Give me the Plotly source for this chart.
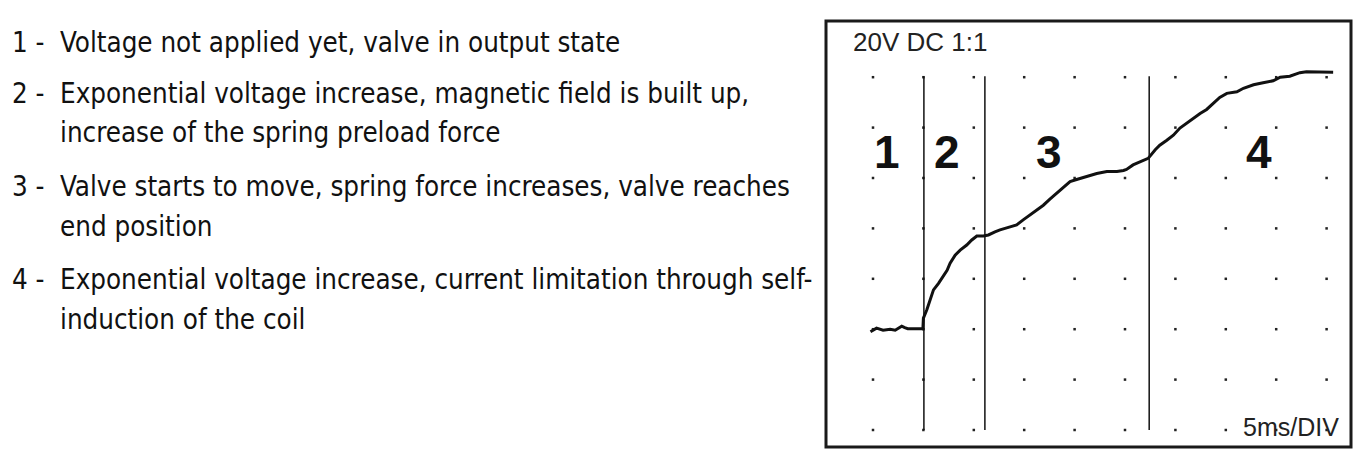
import plotly.graph_objects as go

W, H = 1366, 458

# Oscilloscope trace (time in divisions, level in divisions above bottom grid row)
trace_t = [-0.05, 0.07, 0.20, 0.34, 0.44, 0.57, 0.63, 0.69, 0.99, 1.00, 1.07, 1.13, 1.20, 1.30,
           1.39, 1.47, 1.53, 1.63, 1.73, 1.86, 1.96, 2.06, 2.19, 2.29, 2.42, 2.52, 2.72, 2.85,
           2.98, 3.12, 3.25, 3.38, 3.51, 3.64, 3.78, 3.91, 4.04, 4.24, 4.44, 4.64, 4.84, 4.97,
           5.03, 5.16, 5.29, 5.46, 5.60, 5.69, 5.83, 5.96, 6.09, 6.22, 6.36, 6.49, 6.62, 6.75,
           6.88, 7.02, 7.22, 7.35, 7.55, 7.74, 7.94, 8.08, 8.27, 8.47, 8.60, 9.13]
trace_v = [1.95, 2.02, 1.98, 2.00, 1.98, 2.06, 2.03, 2.01, 2.01, 2.22, 2.39, 2.58, 2.78, 2.91,
           3.04, 3.17, 3.31, 3.47, 3.57, 3.67, 3.77, 3.85, 3.85, 3.87, 3.93, 3.97, 4.03, 4.07,
           4.17, 4.27, 4.37, 4.46, 4.58, 4.70, 4.82, 4.93, 4.97, 5.03, 5.09, 5.13, 5.13, 5.15,
           5.17, 5.26, 5.32, 5.39, 5.56, 5.65, 5.75, 5.85, 5.99, 6.09, 6.18, 6.28, 6.36, 6.48,
           6.60, 6.68, 6.71, 6.78, 6.85, 6.89, 6.93, 7.00, 7.02, 7.09, 7.11, 7.10]

grid_cols = list(range(10))
grid_rows = list(range(8))

phase_bounds = [1.01, 2.22, 5.48]
phase_labels = ["1", "2", "3", "4"]
phase_label_x = [0.28, 1.47, 3.49, 7.65]
phase_label_y = 5.51

scope_header = "20V DC 1:1"
scope_timebase = "5ms/DIV"

legend_nums = ["1 -", "2 -", "3 -", "4 -"]
legend_lines = [
    ["Voltage not applied yet, valve in output state"],
    ["Exponential voltage increase, magnetic field is built up,",
     "increase of the spring preload force"],
    ["Valve starts to move, spring force increases, valve reaches",
     "end position"],
    ["Exponential voltage increase, current limitation through self-",
     "induction of the coil"],
]

# ---- layout geometry (pixels) ----
box_l, box_r, box_t, box_b = 826, 1351, 21, 447
col0_px, row_bottom_px, div_px = 873, 430, 50.4

def px_x(p):
    return p / W

def px_y(p):
    return 1 - p / H

fig = go.Figure()

gx = [c for r in grid_rows for c in grid_cols]
gy = [r for r in grid_rows for c in grid_cols]
fig.add_trace(go.Scatter(x=gx, y=gy, mode="markers",
                         marker=dict(size=2.5, color="#222222", symbol="square"),
                         hoverinfo="skip", showlegend=False))

fig.add_trace(go.Scatter(x=trace_t, y=trace_v, mode="lines",
                         line=dict(color="#111111", width=3),
                         showlegend=False))

for b in phase_bounds:
    fig.add_shape(type="line", xref="x", yref="y", x0=b, x1=b, y0=0, y1=7.02,
                  line=dict(color="#111111", width=1.5))

fig.add_shape(type="rect", xref="paper", yref="paper",
              x0=px_x(box_l), x1=px_x(box_r), y0=px_y(box_b), y1=px_y(box_t),
              line=dict(color="#1a1a1a", width=3))

ann = []
for lab, lx in zip(phase_labels, phase_label_x):
    ann.append(dict(x=lx, y=phase_label_y, xref="x", yref="y", text=lab, showarrow=False,
                    xanchor="center", yanchor="middle",
                    font=dict(family="Liberation Sans, Arial, sans-serif", size=46,
                              color="#111111", weight="bold")))

ann.append(dict(x=px_x(920), y=px_y(42), xref="paper", yref="paper", text=scope_header,
                showarrow=False, xanchor="center", yanchor="middle",
                font=dict(family="Liberation Sans, Arial, sans-serif", size=26, color="#222222")))
ann.append(dict(x=px_x(1291), y=px_y(427), xref="paper", yref="paper", text=scope_timebase,
                showarrow=False, xanchor="center", yanchor="middle",
                font=dict(family="Liberation Sans, Arial, sans-serif", size=25, color="#222222")))

text_font = dict(family="Liberation Sans Narrow, DejaVu Sans Condensed, Arial Narrow, sans-serif",
                 size=27.5, color="#111111")
line_centers = [[42], [92.5, 132], [186, 226], [279, 319]]
for num, lines, centers in zip(legend_nums, legend_lines, line_centers):
    ann.append(dict(x=px_x(10), y=px_y(centers[0]), xref="paper", yref="paper", text=num,
                    showarrow=False, xanchor="left", yanchor="middle", font=text_font))
    for t, c in zip(lines, centers):
        ann.append(dict(x=px_x(58), y=px_y(c), xref="paper", yref="paper", text=t,
                        showarrow=False, xanchor="left", yanchor="middle", font=text_font))

x_lo = (box_l - col0_px) / div_px
x_hi = (box_r - col0_px) / div_px
y_lo = (row_bottom_px - box_b) / div_px
y_hi = (row_bottom_px - box_t) / div_px

fig.update_layout(
    width=W, height=H, margin=dict(l=0, r=0, t=0, b=0),
    paper_bgcolor="white", plot_bgcolor="white",
    xaxis=dict(domain=[px_x(box_l), px_x(box_r)], range=[x_lo, x_hi], visible=False,
               fixedrange=True),
    yaxis=dict(domain=[px_y(box_b), px_y(box_t)], range=[y_lo, y_hi], visible=False,
               fixedrange=True),
    annotations=ann, showlegend=False,
)

fig.write_html("out.html", config={"displayModeBar": False},
               post_script="document.body.style.margin='0';document.body.style.overflow='hidden';")
